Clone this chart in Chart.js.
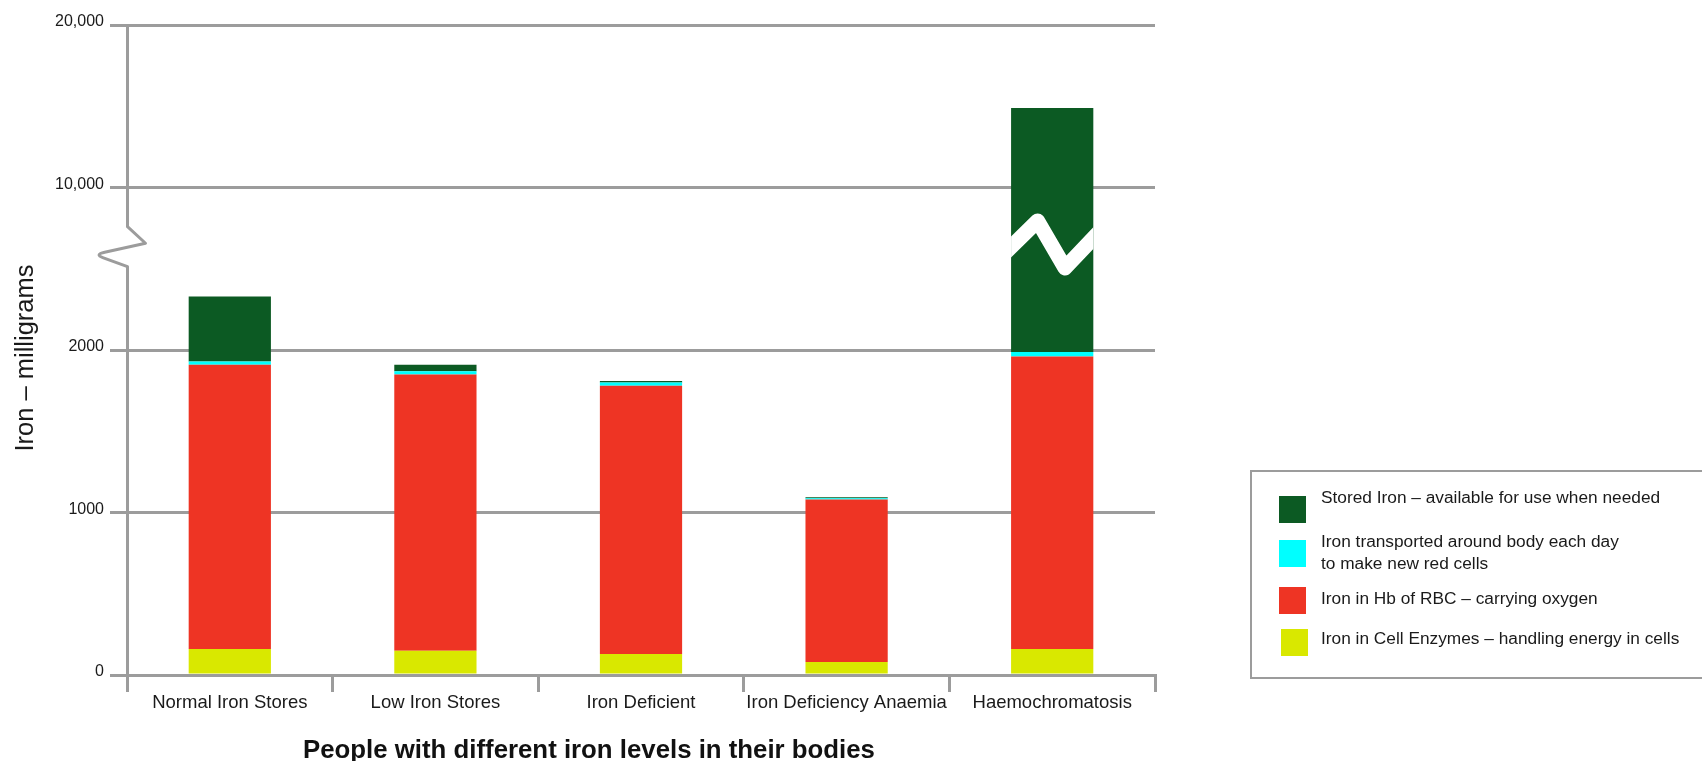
<!DOCTYPE html>
<html>
<head>
<meta charset="utf-8">
<script src="https://cdn.jsdelivr.net/npm/chart.js@4.4.1/dist/chart.umd.min.js"></script>
<style>
  html, body { margin: 0; padding: 0; background: #ffffff; }
  #wrap { position: relative; width: 1702px; height: 761px; overflow: hidden; font-family: "Liberation Sans", Arial, Helvetica, sans-serif; color: #1a1a1a; }
  #chart { position: absolute; left: 0; top: 0; }
  #legend { position: absolute; left: 1250px; top: 470px; width: 500px; height: 205px; border: 2px solid #9c9c9c; }
  .sw { position: absolute; width: 27px; height: 27px; }
  .lt { position: absolute; left: 1321px; font-size: 17.3px; line-height: 22px; white-space: nowrap; color: #1a1a1a; }
</style>
</head>
<body>
<div id="wrap">
  <canvas id="chart" width="1702" height="761"></canvas>
  <div id="legend"></div>
  <div id="legendItems"></div>
</div>
<script>
// ---------- data ----------
const CATEGORIES = ['Normal Iron Stores', 'Low Iron Stores', 'Iron Deficient', 'Iron Deficiency Anaemia', 'Haemochromatosis'];
const ENZYME_IRON = [160, 150, 130, 80, 160];
const HB_IRON = [1750, 1700, 1650, 1000, 1800];
const TRANSPORT_IRON = [20, 20, 20, 8, 28];
const STORED_IRON = [2700, 40, 10, 6, 12900];
const Y_TICKS = [0, 1000, 2000, 10000, 20000];
const Y_TICK_LABELS = ['0', '1000', '2000', '10,000', '20,000'];
const SERIES_LABELS = [
  'Iron in Cell Enzymes – handling energy in cells',
  'Iron in Hb of RBC – carrying oxygen',
  'Iron transported around body each day\nto make new red cells',
  'Stored Iron – available for use when needed'
];
const SERIES_COLORS = ['#d9e800', '#ee3424', '#00ffff', '#0c5a23'];
const X_TITLE = 'People with different iron levels in their bodies';
const Y_TITLE = 'Iron – milligrams';

const GRAY = '#9c9c9c';
const FONT = '"Liberation Sans", Arial, Helvetica, sans-serif';
Chart.defaults.font.family = FONT;
Chart.defaults.color = '#1a1a1a';

// ---------- broken (piecewise) value axis ----------
const LinearScale = Chart.LinearScale || Chart.registry.getScale('linear');
class BrokenLinearScale extends LinearScale {
  buildTicks() {
    this.start = this.min; this.end = this.max;
    return Y_TICKS.map(v => ({ value: v }));
  }
  _segPos(value) {
    const b = Y_TICKS;
    if (value <= b[0]) return 0;
    if (value >= b[b.length - 1]) return b.length - 1;
    let i = 0;
    while (i < b.length - 2 && value > b[i + 1]) i++;
    return i + (value - b[i]) / (b[i + 1] - b[i]);
  }
  getPixelForValue(value) {
    if (value === null || value === undefined || isNaN(value)) return NaN;
    return this.getPixelForDecimal(this._segPos(value) / (Y_TICKS.length - 1));
  }
  getValueForPixel(pixel) {
    const d = this.getDecimalForPixel(pixel) * (Y_TICKS.length - 1);
    const i = Math.max(0, Math.min(Math.floor(d), Y_TICKS.length - 2));
    return Y_TICKS[i] + (d - i) * (Y_TICKS[i + 1] - Y_TICKS[i]);
  }
}
BrokenLinearScale.id = 'brokenLinear';
BrokenLinearScale.defaults = LinearScale.defaults;
Chart.register(BrokenLinearScale);

// ---------- decorations: axis break, bar break, axis titles ----------
const decorations = {
  id: 'decorations',
  afterDraw(chart) {
    const ctx = chart.ctx;
    const ys = chart.scales.y;
    const area = chart.chartArea;
    const p10k = ys.getPixelForValue(10000);
    const p2k = ys.getPixelForValue(2000);
    const s = p2k - p10k;

    // axis break zigzag
    const ax = ys.right + 0.5;
    const yA = p10k + 0.247 * s, yB = p10k + 0.343 * s, yC = p10k + 0.413 * s, yD = p10k + 0.487 * s;
    ctx.save();
    ctx.fillStyle = '#ffffff';
    ctx.fillRect(ax - 3, yA, 6, yD - yA);
    ctx.strokeStyle = GRAY;
    ctx.lineWidth = 3;
    ctx.lineJoin = 'round';
    const B = [ax + 18, yB], C = [ax - 33, yC], D = [ax, yD];
    const c1 = [B[0] + 0.8 * (C[0] - B[0]), B[1] + 0.8 * (C[1] - B[1])];
    const c2 = [C[0] + 0.25 * (D[0] - C[0]), C[1] + 0.25 * (D[1] - C[1])];
    ctx.beginPath();
    ctx.moveTo(ax, yA - 1);
    ctx.lineTo(B[0], B[1]);
    ctx.lineTo(c1[0], c1[1]);
    ctx.quadraticCurveTo(C[0], C[1], c2[0], c2[1]);
    ctx.lineTo(D[0], D[1]);
    ctx.lineTo(D[0], D[1] + 1);
    ctx.stroke();
    ctx.restore();

    // white break across the tallest stored-iron bar
    const meta = chart.getDatasetMeta(3);
    const bar = meta.data[4];
    if (bar) {
      const w = bar.width, left = bar.x - w / 2, right = bar.x + w / 2;
      const top = Math.min(bar.y, bar.base), bottom = Math.max(bar.y, bar.base);
      ctx.save();
      ctx.beginPath();
      ctx.rect(left, top, w, bottom - top);
      ctx.clip();
      ctx.strokeStyle = '#ffffff';
      ctx.lineWidth = 15;
      ctx.lineJoin = 'round';
      ctx.lineCap = 'butt';
      const P0 = [left, p10k + 0.366 * s];
      const P1 = [left + 0.323 * w, p10k + 0.206 * s];
      const P2 = [left + 0.656 * w, p10k + 0.495 * s];
      const P3 = [right, p10k + 0.311 * s];
      const e0 = [P0[0] - (P1[0] - P0[0]) * 0.5, P0[1] - (P1[1] - P0[1]) * 0.5];
      const e3 = [P3[0] + (P3[0] - P2[0]) * 0.5, P3[1] + (P3[1] - P2[1]) * 0.5];
      ctx.beginPath();
      ctx.moveTo(e0[0], e0[1]);
      ctx.lineTo(P1[0], P1[1]);
      ctx.lineTo(P2[0], P2[1]);
      ctx.lineTo(e3[0], e3[1]);
      ctx.stroke();
      ctx.restore();
    }

    // axis titles
    ctx.save();
    ctx.fillStyle = '#1a1a1a';
    ctx.font = '25.5px ' + FONT;
    ctx.textAlign = 'center';
    ctx.textBaseline = 'alphabetic';
    ctx.translate(33, (area.top + area.bottom) / 2 + 8);
    ctx.rotate(-Math.PI / 2);
    ctx.fillText(Y_TITLE, 0, 0);
    ctx.restore();

    ctx.save();
    ctx.fillStyle = '#111111';
    ctx.font = 'bold 25.8px ' + FONT;
    ctx.textAlign = 'center';
    ctx.textBaseline = 'alphabetic';
    ctx.fillText(X_TITLE, area.left + 462, chart.height - 3);
    ctx.restore();
  }
};

const datasets = [ENZYME_IRON, HB_IRON, TRANSPORT_IRON, STORED_IRON].map((vals, i) => ({
  label: SERIES_LABELS[i].replace('\n', ' '),
  data: vals,
  backgroundColor: SERIES_COLORS[i],
  borderWidth: 0,
  categoryPercentage: 1.0,
  barPercentage: 0.4
}));

new Chart(document.getElementById('chart'), {
  type: 'bar',
  data: { labels: CATEGORIES, datasets },
  options: {
    responsive: false,
    animation: false,
    devicePixelRatio: 1,
    layout: { padding: { left: 0, right: 547, top: 25, bottom: 0 } },
    plugins: { legend: { display: false }, tooltip: { enabled: false } },
    scales: {
      x: {
        stacked: true,
        offset: true,
        grid: { offset: true, drawOnChartArea: false, drawTicks: true, tickLength: 17, color: GRAY, lineWidth: 3 },
        border: { display: true, color: GRAY, width: 3 },
        ticks: { font: { size: 18.5 }, color: '#1a1a1a', padding: 0, maxRotation: 0, autoSkip: false },
        afterFit: sc => { sc.height = 86; }
      },
      y: {
        type: 'brokenLinear',
        stacked: true,
        min: 0,
        max: 20000,
        grid: { drawOnChartArea: true, drawTicks: true, tickLength: 17, color: GRAY, lineWidth: 3 },
        border: { display: true, color: GRAY, width: 3 },
        ticks: {
          font: { size: 16 }, color: '#1a1a1a', padding: 6, labelOffset: -3, autoSkip: false,
          callback: (v, i) => Y_TICK_LABELS[i]
        },
        afterFit: sc => { sc.width = 127; }
      }
    }
  },
  plugins: [decorations]
});

// ---------- legend (HTML) ----------
const LEGEND_ORDER = [3, 2, 1, 0];
const SW_POS = [[1279, 496], [1279, 540], [1279, 587], [1281, 629]];
const TXT_TOP = [486, 529.5, 586.5, 627];
const items = document.getElementById('legendItems');
LEGEND_ORDER.forEach((di, k) => {
  const sw = document.createElement('div');
  sw.className = 'sw';
  sw.style.left = SW_POS[k][0] + 'px';
  sw.style.top = SW_POS[k][1] + 'px';
  sw.style.background = SERIES_COLORS[di];
  items.appendChild(sw);
  const t = document.createElement('div');
  t.className = 'lt';
  t.style.top = TXT_TOP[k] + 'px';
  t.innerHTML = SERIES_LABELS[di].split('\n').join('<br>');
  items.appendChild(t);
});
</script>
</body>
</html>
